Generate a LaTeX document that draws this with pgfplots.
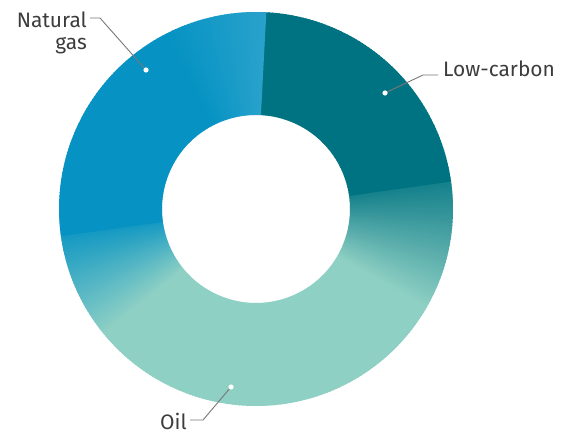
\documentclass[border=0pt]{standalone}
\usepackage{pgfplots}
\pgfplotsset{compat=1.18}
\usepackage{pgfplotstable}
\usepackage{fontspec}
\setmainfont{Fira Sans}
\definecolor{labelgray}{RGB}{60,60,60}
\definecolor{leadergray}{RGB}{120,120,120}

% shares of the portfolio (per cent)
\pgfplotstableread{
label share
Low-carbon 22
Oil 50
Gas 28
}\donutdata

\begin{document}
\begin{tikzpicture}
\pgfplotstablegetelem{0}{share}\of\donutdata \pgfmathsetmacro\sLC{\pgfplotsretval}
\pgfplotstablegetelem{1}{share}\of\donutdata \pgfmathsetmacro\sOil{\pgfplotsretval}
\pgfplotstablegetelem{2}{share}\of\donutdata \pgfmathsetmacro\sGas{\pgfplotsretval}
% boundary angles (standard orientation, segments run clockwise from Btop)
\pgfmathsetmacro\Btop{87}
\pgfmathsetmacro\Blo{\Btop-3.6*\sLC}
\pgfmathsetmacro\Bgas{\Blo-3.6*\sOil+360}
% colour of each 1-degree slice
\foreach \a in {0,...,359}{%
  \pgfmathsetmacro\c{\a+0.5}%
  \pgfmathsetmacro\aa{(\c<\Blo) ? \c+360 : \c}%
  \pgfmathsetmacro\inLC{(\aa<=\Btop) ? 1 : 0}%
  \pgfmathsetmacro\inGas{((\aa>\Btop) && (\aa<=\Bgas)) ? 1 : 0}%
  \pgfmathsetmacro\inOil{(\aa>\Bgas) ? 1 : 0}%
  \pgfmathsetmacro\tB{\inOil*max(0,0.9*(1-(\aa-\Bgas)/32))}%
  \pgfmathsetmacro\tT{\inOil*max(0,0.85*(1-(\Blo+360-\aa)/38))}%
  \pgfmathsetmacro\tW{\inGas*max(0,0.14*(1-(\aa-\Btop)/30))}%
  \pgfmathsetmacro\wT{\inLC+\tT}%
  \pgfmathsetmacro\wB{\inGas*(1-\tW)+\tB}%
  \pgfmathsetmacro\wO{\inOil*(1-\tB-\tT)}%
  \pgfmathsetmacro\rr{(\wT*0+\wB*6+\wO*143+\tW*255)/255}%
  \pgfmathsetmacro\gg{(\wT*115+\wB*147+\wO*208+\tW*255)/255}%
  \pgfmathsetmacro\bb{(\wT*130+\wB*195+\wO*196+\tW*255)/255}%
  \xglobal\definecolor{w\a}{rgb}{\rr,\gg,\bb}%
}
\begin{axis}[
  scale only axis, width=572bp, height=435bp,
  xmin=0, xmax=572, ymin=0, ymax=435,
  hide axis, clip=false,
]
\path (axis cs:0,0) rectangle (axis cs:572,435);
\pgfplotsinvokeforeach{0,...,359}{
  \fill[w#1] ([shift={(#1:94bp)}]axis cs:256,226)
     arc[start angle=#1, delta angle=1.4, radius=94bp]
     -- ([shift={({#1+1.4}:197bp)}]axis cs:256,226)
     arc[start angle={#1+1.4}, delta angle=-1.4, radius=197bp] -- cycle;
}
% leader lines
\draw[leadergray, line width=0.9bp] (axis cs:90,417) -- (axis cs:100,417) -- (axis cs:146,365);
\draw[leadergray, line width=0.9bp] (axis cs:438,360) -- (axis cs:423,360) -- (axis cs:385,342);
\draw[leadergray, line width=0.9bp] (axis cs:190,15) -- (axis cs:203,15) -- (axis cs:231,48);
\fill[white] (axis cs:146,365) circle[radius=2.6bp];
\fill[white] (axis cs:385,342) circle[radius=2.6bp];
\fill[white] (axis cs:231,48) circle[radius=2.6bp];
% labels
\node[anchor=base east, inner sep=0pt, text=labelgray, font=\fontsize{21}{24}\selectfont] at (axis cs:87,407) {Natural};
\node[anchor=base east, inner sep=0pt, text=labelgray, font=\fontsize{21}{24}\selectfont] at (axis cs:87,385) {gas};
\node[anchor=base west, inner sep=0pt, text=labelgray, font=\fontsize{21}{24}\selectfont] at (axis cs:443,358) {Low-carbon};
\node[anchor=base west, inner sep=0pt, text=labelgray, font=\fontsize{21}{24}\selectfont] at (axis cs:160,6) {Oil};
\end{axis}
\end{tikzpicture}
\end{document}
